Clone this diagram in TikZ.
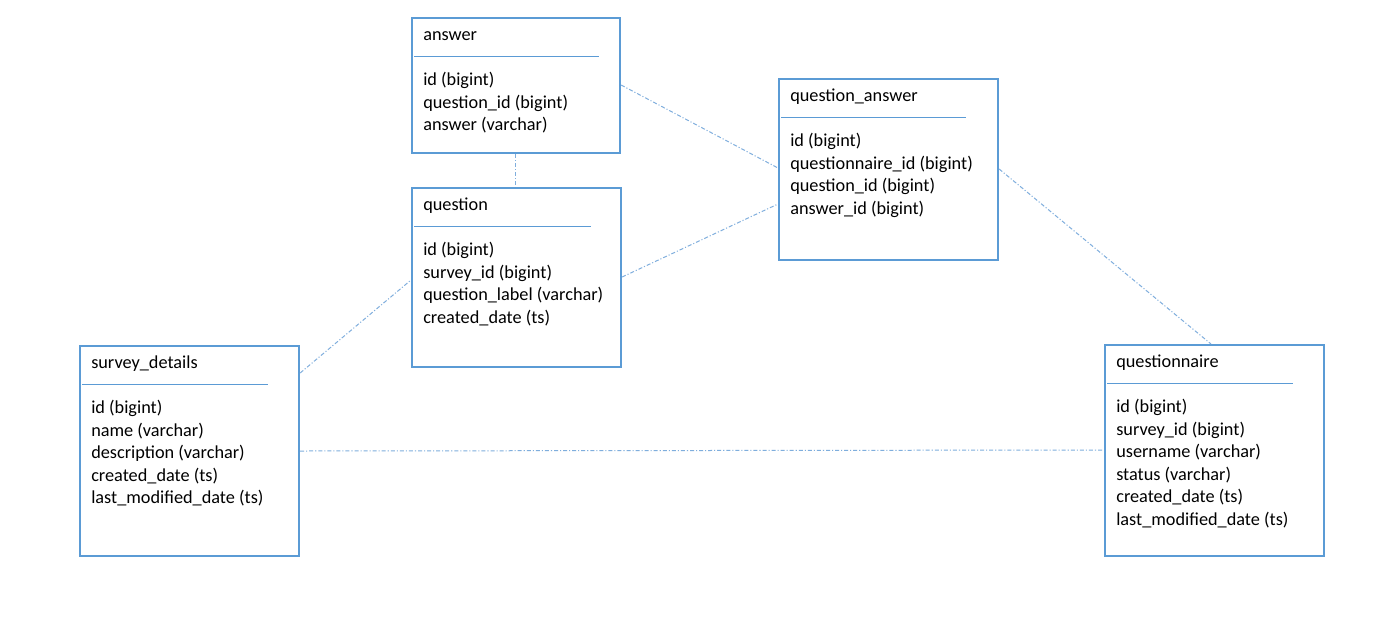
\documentclass[tikz,border=0pt]{standalone}
\usepackage{fontspec}
\setmainfont{Carlito}
\definecolor{boxblue}{HTML}{5B9BD5}
\definecolor{linkblue}{HTML}{7FAEDD}
\tikzset{
  x=0.75pt, y=-0.75pt,
  entity/.style={draw=boxblue, line width=1.6pt, rectangle, inner sep=0pt, anchor=north west},
  sepline/.style={draw=boxblue, line width=0.75pt},
  txt/.style={anchor=base west, inner sep=0pt, font=\fontsize{13.7}{16.9}\selectfont, text=black},
  link/.style={draw=linkblue, line width=0.75pt, dash pattern=on 3pt off 1.5pt on 0.8pt off 1.5pt}
}
% \entitybox{name}{left}{top}{width}{height}{sep right}{title}{fields}
\newcommand{\entitybox}[8]{%
  \node[entity, minimum width=#4*0.75pt, minimum height=#5*0.75pt] (#1) at (#2,#3) {};
  \node[txt] (#1-title) at (#2+12,#3+23.5) {#7};
  \coordinate (#1-sl) at (#2+3,#3+39);
  \coordinate (#1-sr) at (#6,#3+39);
  \draw[sepline] (#1-sl) -- (#1-sr);
  \foreach \f [count=\i] in {#8} {
    \node[txt] (#1-f\i) at (#2+12,#3+68.5+22.5*\i-22.5) {\f};
  }%
}
\begin{document}
\begin{tikzpicture}
\useasboundingbox[fill=white] (0,0) rectangle (1397,637);

\entitybox{ans}{411}{17}{208}{135}{599}{answer}{id (bigint),question\_id (bigint),answer (varchar)}
\entitybox{que}{411}{187}{209}{179}{591}{question}{id (bigint),survey\_id (bigint),question\_label (varchar),created\_date (ts)}
\entitybox{qa}{778}{78}{219}{181}{966}{question\_answer}{id (bigint),questionnaire\_id (bigint),question\_id (bigint),answer\_id (bigint)}
\entitybox{sd}{79}{345}{219}{210}{268}{survey\_details}{id (bigint),name (varchar),description (varchar),created\_date (ts),last\_modified\_date (ts)}
\entitybox{qn}{1104}{344}{219}{211}{1293}{questionnaire}{id (bigint),survey\_id (bigint),username (varchar),status (varchar),created\_date (ts),last\_modified\_date (ts)}

\draw[link] (ans.south -| 515,0) -- (que.north -| 515,0);
\draw[link] (ans.north east |- 0,85) -- (qa.north west |- 0,168);
\draw[link] (que.north east |- 0,277) -- (qa.north west |- 0,204);
\draw[link] (sd.north east |- 0,373) -- (que.north west |- 0,280);
\draw[link] (sd.north east |- 0,451) -- (qn.north west |- 0,450);
\draw[link] (qa.north east |- 0,169) -- (qn.north -| 1211,0);
\end{tikzpicture}
\end{document}
